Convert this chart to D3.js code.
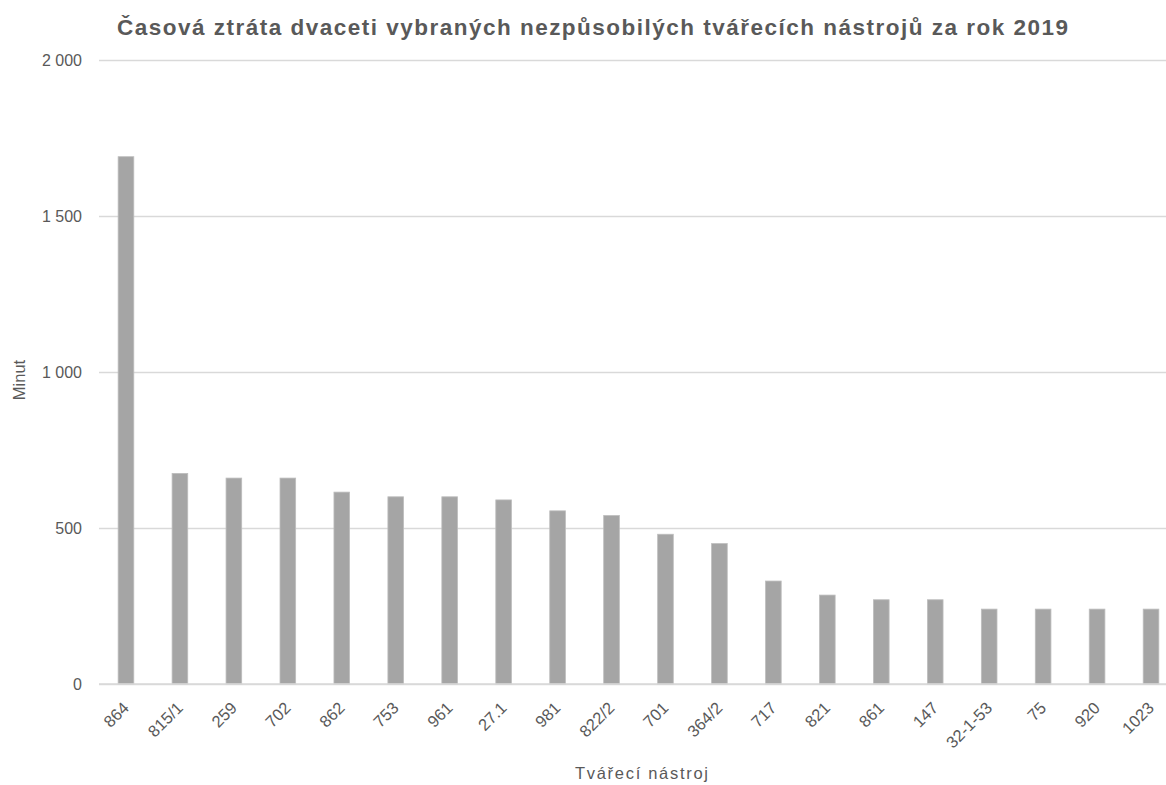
<!DOCTYPE html>
<html>
<head>
<meta charset="utf-8">
<script src="https://cdn.jsdelivr.net/npm/d3@7"></script>
<style>
  body { margin: 0; background: #fff; }
  svg { display: block; font-family: "Liberation Sans", Arial, sans-serif; }
</style>
</head>
<body>
<svg id="chart" width="1166" height="785"></svg>
<script>
// Forming tools and their lost time (minutes) in 2019
const tools = ["864", "815/1", "259", "702", "862", "753", "961", "27.1", "981", "822/2",
               "701", "364/2", "717", "821", "861", "147", "32-1-53", "75", "920", "1023"];
const minutes = [1690, 675, 660, 660, 615, 600, 600, 590, 555, 540,
                 480, 450, 330, 285, 270, 270, 240, 240, 240, 240];
const yTicks = [0, 500, 1000, 1500, 2000];

const titleText = "Časová ztráta dvaceti vybraných nezpůsobilých tvářecích nástrojů za rok 2019";
const yTitle = "Minut";
const xTitle = "Tvářecí nástroj";

const svg = d3.select("#chart");
const W = 1166;
const plotLeft = 99, plotRight = 1178, plotTop = 60, plotBottom = 684;
const textColor = "#595959";

const x = d3.scaleBand().domain(tools).range([plotLeft, plotRight]).paddingInner(0.71).paddingOuter(0.355);
const y = d3.scaleLinear().domain([0, 2000]).range([plotBottom, plotTop]);

// horizontal gridlines
const yAxis = d3.axisLeft(y).tickValues(yTicks).tickSize(0).tickPadding(17)
  .tickFormat(d => d3.format(",")(d).replace(/,/g, " "));
const gy = svg.append("g").attr("transform", `translate(${plotLeft},0)`).call(yAxis);
gy.select(".domain").remove();
gy.selectAll(".tick line").attr("x2", W - plotLeft).attr("stroke", "#d9d9d9").attr("stroke-width", 1.3);
gy.selectAll(".tick text").attr("fill", textColor).attr("font-size", 16)
  .attr("font-family", "Liberation Sans, Arial, sans-serif");

// bars
svg.append("g").selectAll("rect").data(tools).join("rect")
  .attr("x", d => x(d))
  .attr("y", (d, i) => y(minutes[i]))
  .attr("width", x.bandwidth())
  .attr("height", (d, i) => y(0) - y(minutes[i]))
  .attr("fill", "#a5a5a5")
  .attr("stroke", "#bdbdbd")
  .attr("stroke-width", 0.8);

// baseline on top of the bars
svg.append("line").attr("x1", plotLeft).attr("x2", W).attr("y1", y(0)).attr("y2", y(0))
  .attr("stroke", "#d9d9d9").attr("stroke-width", 1.3);

// category labels, rotated
const xAxis = d3.axisBottom(x).tickSize(0).tickPadding(0);
const gx = svg.append("g").attr("transform", `translate(0,${plotBottom})`).call(xAxis);
gx.select(".domain").remove();
gx.selectAll(".tick text")
  .attr("fill", textColor).attr("font-size", 16.5)
  .attr("font-family", "Liberation Sans, Arial, sans-serif")
  .attr("text-anchor", "end")
  .attr("dy", null).attr("y", 0)
  .attr("transform", "translate(4,25) rotate(-45)");

// titles
svg.append("text").attr("x", 117).attr("y", 35)
  .attr("font-size", 22.5).attr("font-weight", "bold").attr("fill", textColor)
  .attr("textLength", 951).attr("lengthAdjust", "spacing")
  .text(titleText);

svg.append("text").attr("transform", "translate(25,380) rotate(-90)").attr("text-anchor", "middle")
  .attr("font-size", 16.5).attr("fill", textColor).text(yTitle);

svg.append("text").attr("x", 575).attr("y", 779)
  .attr("font-size", 16.5).attr("fill", textColor)
  .attr("textLength", 133).attr("lengthAdjust", "spacing")
  .text(xTitle);
</script>
</body>
</html>
